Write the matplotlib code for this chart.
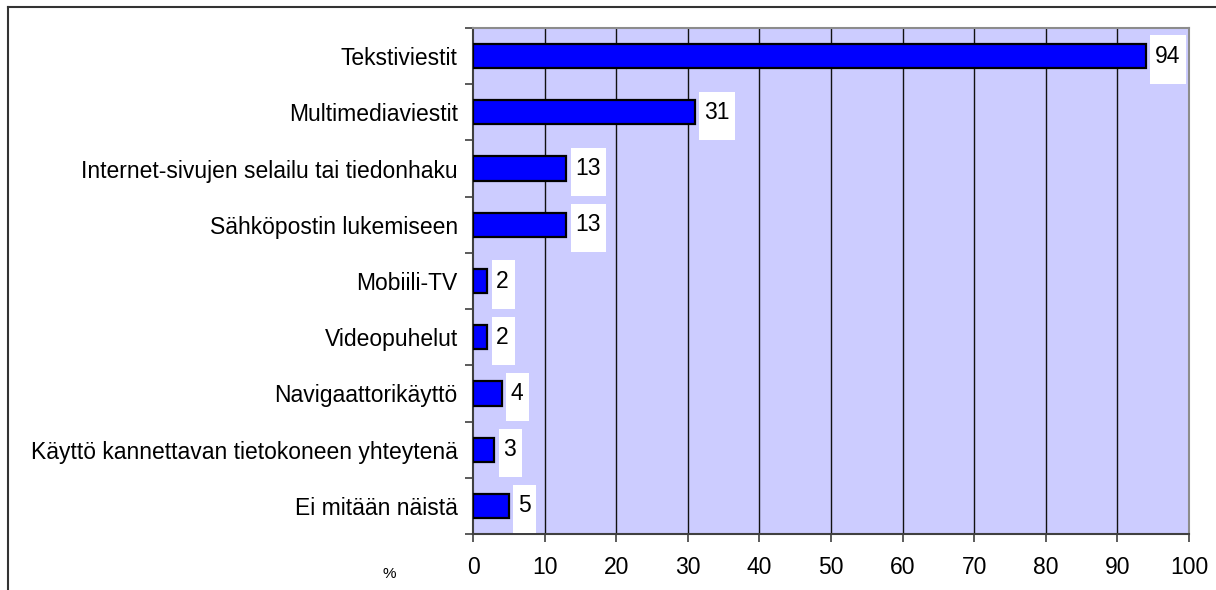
import numpy as np
from matplotlib import pyplot as plt
from matplotlib.lines import Line2D
from matplotlib.path import Path

categories = [
    'Tekstiviestit',
    'Multimediaviestit',
    'Internet-sivujen selailu tai tiedonhaku',
    'Sähköpostin lukemiseen',
    'Mobiili-TV',
    'Videopuhelut',
    'Navigaattorikäyttö',
    'Käyttö kannettavan tietokoneen yhteytenä',
    'Ei mitään näistä',
]
values = [94, 31, 13, 13, 2, 2, 4, 3, 5]
x_ticks = list(range(0, 101, 10))


def label_box(x0, y0, width, height, mutation_size):
    # tall white box behind each value, hanging below the number
    s = mutation_size
    left = x0 - 0.2 * s
    right = x0 + width + 0.25 * s
    cy = y0 + height / 2
    top = cy + 0.9 * s
    bottom = cy - 1.2 * s
    verts = [(left, bottom), (right, bottom), (right, top), (left, top), (left, bottom)]
    codes = [Path.MOVETO, Path.LINETO, Path.LINETO, Path.LINETO, Path.CLOSEPOLY]
    return Path(verts, codes)


plt.rcParams['font.family'] = ['Liberation Sans', 'DejaVu Sans']

fig = plt.figure(figsize=(12.16, 5.9), dpi=100)
fig.set_facecolor('white')
ax = fig.add_axes([473 / 1216, 1 - 534 / 590, (1189 - 473) / 1216, (534 - 28) / 590])
ax.set_facecolor('#CCCCFF')

pos = np.arange(len(categories))
ax.barh(pos, values, height=0.43, color='#0000FF', edgecolor='black',
        linewidth=1.6, zorder=3)

for p, v in zip(pos, values):
    ax.annotate(str(v), xy=(v, p), xytext=(6.5, 0), textcoords='offset points',
                ha='left', va='center', fontsize=16.5, color='black', zorder=4,
                bbox=dict(boxstyle=label_box, facecolor='white', edgecolor='none'))

ax.set_xlim(0, 100)
ax.set_ylim(len(categories) - 0.5, -0.5)
ax.set_xticks(x_ticks)
ax.set_xticklabels([str(t) for t in x_ticks], fontsize=16.5)
ax.set_yticks(pos)
ax.set_yticklabels(categories, fontsize=16.5)
ax.set_yticks(np.arange(len(categories) + 1) - 0.5, minor=True)

ax.tick_params(axis='y', which='major', length=0, pad=11)
ax.tick_params(axis='y', which='minor', length=6, width=1.2, color='#404040', direction='out')
ax.tick_params(axis='x', which='major', length=6, width=1.2, color='#404040',
               direction='out', pad=10)

for t in x_ticks[1:-1]:
    ax.axvline(t, color='#111111', linewidth=1, zorder=1)

ax.spines['left'].set_color('#404040')
ax.spines['bottom'].set_color('#404040')
ax.spines['left'].set_linewidth(1.5)
ax.spines['bottom'].set_linewidth(1.5)
ax.spines['top'].set_color('#8C8C8C')
ax.spines['right'].set_color('#8C8C8C')
ax.spines['top'].set_linewidth(1.5)
ax.spines['right'].set_linewidth(1.5)

fig.text(389 / 1216, 1 - 574 / 590, '%', fontsize=11, ha='center', va='center')

# outer chart frame
fig.add_artist(Line2D([8 / 1216, 8 / 1216], [0, 1 - 7 / 590], transform=fig.transFigure,
                      color='#333333', linewidth=1.5))
fig.add_artist(Line2D([8 / 1216, 1], [1 - 7 / 590, 1 - 7 / 590], transform=fig.transFigure,
                      color='#333333', linewidth=1.5))

plt.savefig('out.png', dpi=100)
